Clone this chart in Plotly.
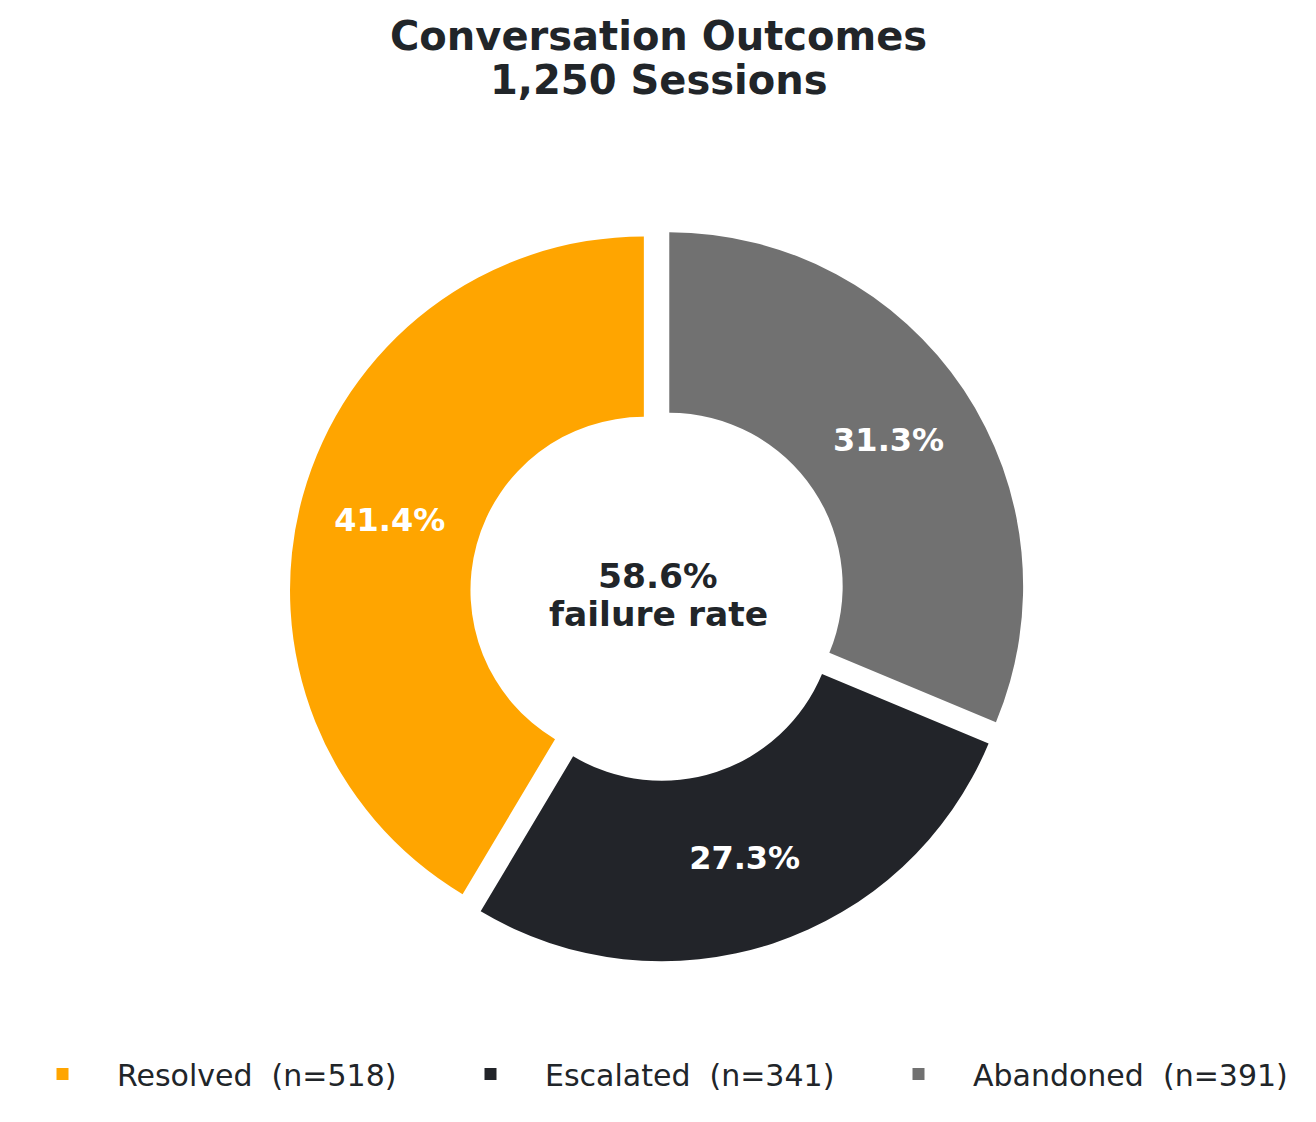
import plotly.graph_objects as go

# data
outcomes = ["Resolved", "Escalated", "Abandoned"]
sessions = [518, 341, 391]
slice_colors = ["#FFA500", "#222429", "#717171"]

total = sum(sessions)
failure_rate = (sessions[1] + sessions[2]) / total * 100

legend_names = [f"{name}\u00a0\u00a0(n={n})" for name, n in zip(outcomes, sessions)]

# page body has an 8px margin, so the figure is drawn 8px in from the window corner
W, H, OFF = 1300, 1106, 8


def px_x(x):
    return (x - OFF) / W


def px_y(y):
    return 1 - (y - OFF) / H


fig = go.Figure()

# first slice starts at 12 o'clock and runs counterclockwise
start_angle = -sessions[0] / total * 360

fig.add_trace(go.Pie(
    labels=legend_names,
    values=sessions,
    sort=False,
    direction="counterclockwise",
    rotation=start_angle,
    hole=0.49,
    pull=[0.04, 0.04, 0.04],
    marker=dict(colors=slice_colors, line=dict(width=0)),
    texttemplate="<b>%{percent:.1%}</b>",
    textposition="inside",
    insidetextorientation="horizontal",
    insidetextfont=dict(color="white", size=32, family="DejaVu Sans"),
    domain=dict(x=[px_x(289.3), px_x(1025.7)], y=[px_y(962), px_y(226)]),
    hoverinfo="label+value+percent",
))

bold = dict(color="#212529", family="DejaVu Sans")

# title, two tight lines
fig.add_annotation(x=0.5, y=px_y(36), xref="paper", yref="paper",
                   xanchor="center", yanchor="middle",
                   text="<b>Conversation Outcomes</b>", showarrow=False,
                   font=dict(size=40, **bold))
fig.add_annotation(x=0.5, y=px_y(80), xref="paper", yref="paper",
                   xanchor="center", yanchor="middle",
                   text=f"<b>{total:,} Sessions</b>", showarrow=False,
                   font=dict(size=40, **bold))

# centre text
fig.add_annotation(x=px_x(658), y=px_y(575.5), xref="paper", yref="paper",
                   xanchor="center", yanchor="middle",
                   text=f"<b>{failure_rate:.1f}%</b>", showarrow=False,
                   font=dict(size=34.5, **bold))
fig.add_annotation(x=px_x(658), y=px_y(614), xref="paper", yref="paper",
                   xanchor="center", yanchor="middle",
                   text="<b>failure rate</b>", showarrow=False,
                   font=dict(size=34.5, **bold))

fig.update_layout(
    width=W,
    height=H,
    margin=dict(l=0, r=0, t=0, b=0),
    paper_bgcolor="white",
    plot_bgcolor="white",
    font=dict(family="DejaVu Sans", color="#212529"),
    legend=dict(
        orientation="h",
        x=0, xanchor="left",
        y=px_y(1074), yanchor="middle",
        font=dict(size=30, color="#212529"),
        itemwidth=99,
        entrywidth=314,
        entrywidthmode="pixels",
        traceorder="normal",
    ),
)

fig.write_html("out.html")
